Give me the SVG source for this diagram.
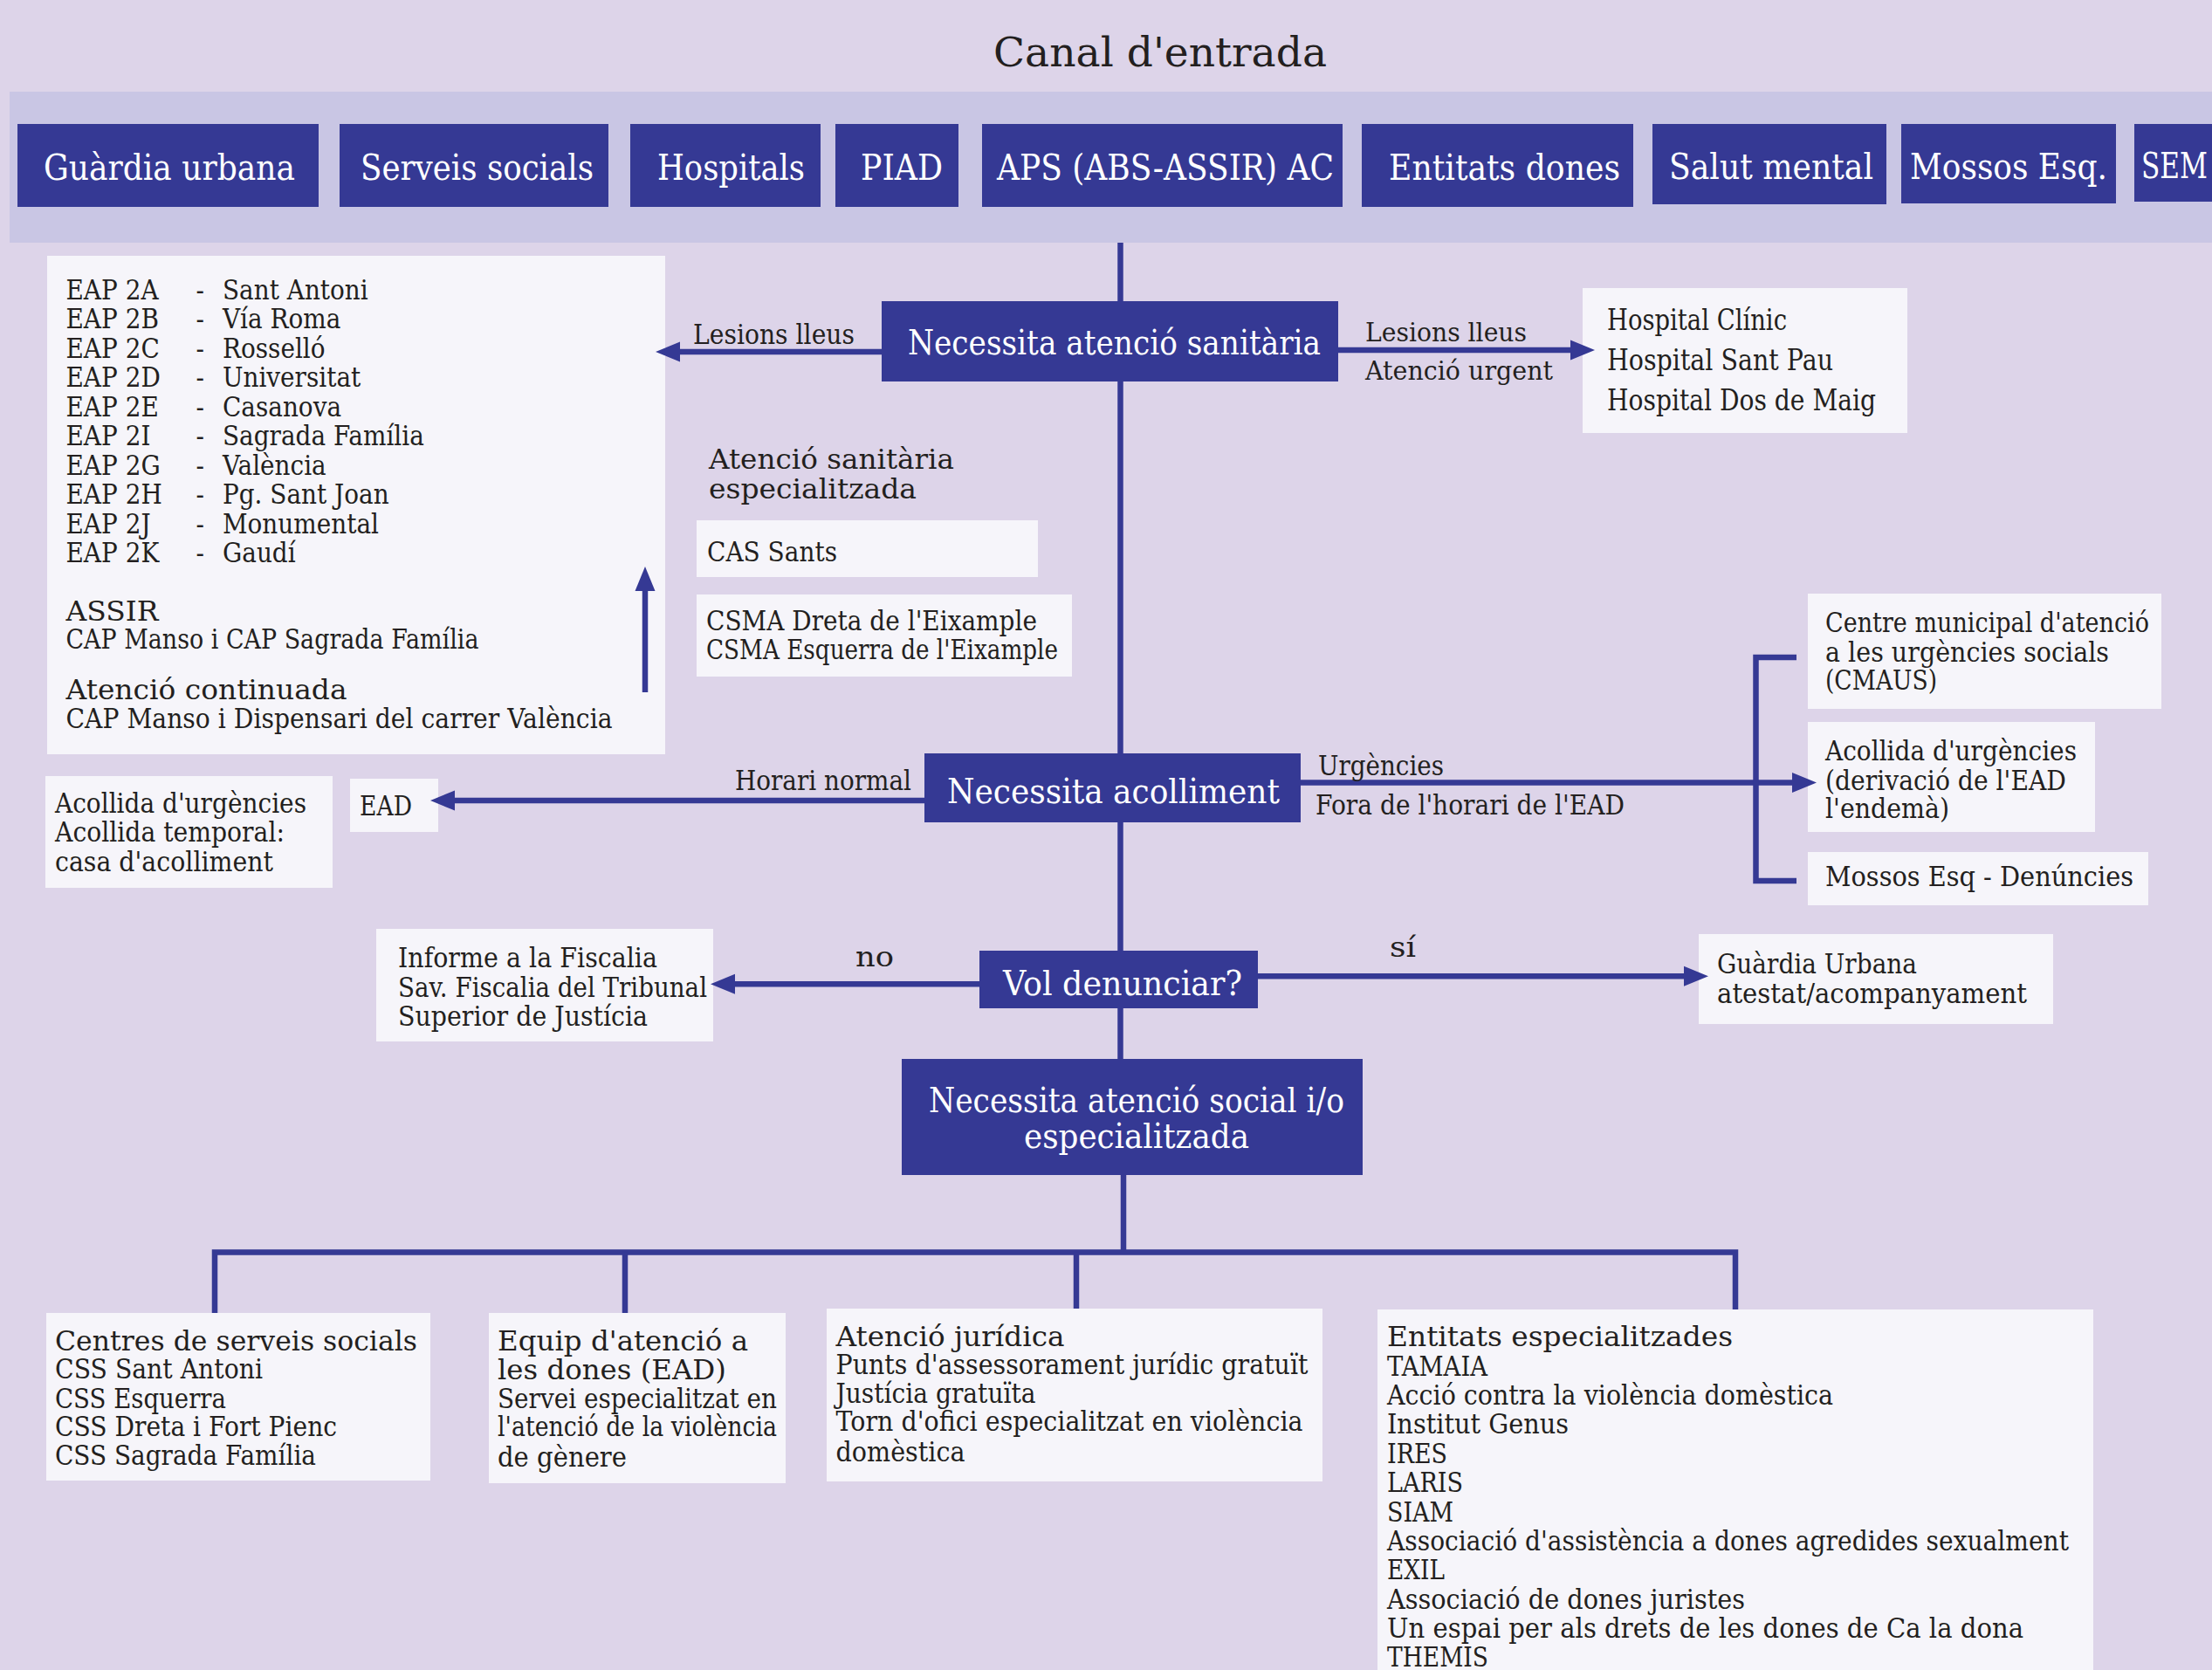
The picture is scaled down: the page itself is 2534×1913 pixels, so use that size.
<svg xmlns="http://www.w3.org/2000/svg" width="2534" height="1913" viewBox="0 0 2534 1913">
<defs>
<style>
text{font-family:'DejaVu Serif','Liberation Serif',serif;fill:#231F20}
.s31{font-size:31px}
.s30{font-size:30px}
.s33{font-size:33px}
.hd{font-size:41px;fill:#fff}
.dk{font-size:40px;fill:#fff}
.dark{fill:#353994}
.light{fill:#F6F5FA}
.ln{stroke:#353994;stroke-width:6.5;fill:none}
.ar{stroke:#353994;stroke-width:6.5;fill:none;marker-end:url(#ah)}
</style>
<marker id="ah" markerUnits="userSpaceOnUse" markerWidth="28" markerHeight="24" viewBox="0 0 28 24" refX="8" refY="12" orient="auto">
<path d="M0,0.5 L28,12 L0,23.5 z" fill="#353994"/>
</marker>
</defs>
<rect x="0" y="0" width="2534" height="1913" fill="#DDD4E9"/>
<text id="title" x="1138" y="76" font-size="47" textLength="382" lengthAdjust="spacingAndGlyphs">Canal d'entrada</text>
<rect x="11" y="105" width="2523" height="173" fill="#C9C6E4"/>

<g id="entry-channels">
<g id="n-guardia"><rect class="dark" x="20" y="142" width="345" height="95"/><text class="hd" x="50" y="206" textLength="288" lengthAdjust="spacingAndGlyphs">Guàrdia urbana</text></g>
<g id="n-serveis"><rect class="dark" x="389" y="142" width="308" height="95"/><text class="hd" x="413" y="206" textLength="267" lengthAdjust="spacingAndGlyphs">Serveis socials</text></g>
<g id="n-hospitals"><rect class="dark" x="722" y="142" width="218" height="95"/><text class="hd" x="753" y="206" textLength="169" lengthAdjust="spacingAndGlyphs">Hospitals</text></g>
<g id="n-piad"><rect class="dark" x="957" y="142" width="141" height="95"/><text class="hd" x="986" y="206" textLength="94" lengthAdjust="spacingAndGlyphs">PIAD</text></g>
<g id="n-aps"><rect class="dark" x="1125" y="142" width="413" height="95"/><text class="hd" x="1142" y="206" textLength="386" lengthAdjust="spacingAndGlyphs">APS (ABS-ASSIR) AC</text></g>
<g id="n-entitats"><rect class="dark" x="1560" y="142" width="311" height="95"/><text class="hd" x="1591" y="206" textLength="265" lengthAdjust="spacingAndGlyphs">Entitats dones</text></g>
<g id="n-salut"><rect class="dark" x="1893" y="142" width="268" height="92"/><text class="hd" x="1912" y="205" textLength="234" lengthAdjust="spacingAndGlyphs">Salut mental</text></g>
<g id="n-mossos"><rect class="dark" x="2178" y="142" width="246" height="91"/><text class="hd" x="2188" y="205" textLength="226" lengthAdjust="spacingAndGlyphs">Mossos Esq.</text></g>
<g id="n-sem"><rect class="dark" x="2445" y="142" width="89" height="89"/><text class="hd" x="2453" y="204" textLength="76" lengthAdjust="spacingAndGlyphs">SEM</text></g>
</g>

<g id="n-eap">
<rect class="light" x="54" y="293" width="708" height="571"/>
<g transform="scale(0.9,1)" class="s31">
<text x="83.9" y="343">EAP 2A</text><text x="249.4" y="343">-</text><text x="283.3" y="343">Sant Antoni</text>
<text x="83.9" y="376.5">EAP 2B</text><text x="249.4" y="376.5">-</text><text x="283.3" y="376.5">Vía Roma</text>
<text x="83.9" y="410">EAP 2C</text><text x="249.4" y="410">-</text><text x="283.3" y="410">Rosselló</text>
<text x="83.9" y="443.5">EAP 2D</text><text x="249.4" y="443.5">-</text><text x="283.3" y="443.5">Universitat</text>
<text x="83.9" y="477">EAP 2E</text><text x="249.4" y="477">-</text><text x="283.3" y="477">Casanova</text>
<text x="83.9" y="510.5">EAP 2I</text><text x="249.4" y="510.5">-</text><text x="283.3" y="510.5">Sagrada Família</text>
<text x="83.9" y="544">EAP 2G</text><text x="249.4" y="544">-</text><text x="283.3" y="544">València</text>
<text x="83.9" y="577.5">EAP 2H</text><text x="249.4" y="577.5">-</text><text x="283.3" y="577.5">Pg. Sant Joan</text>
<text x="83.9" y="611">EAP 2J</text><text x="249.4" y="611">-</text><text x="283.3" y="611">Monumental</text>
<text x="83.9" y="644.5">EAP 2K</text><text x="249.4" y="644.5">-</text><text x="283.3" y="644.5">Gaudí</text>
</g>
<text class="s31" x="75.5" y="710.5" textLength="106" lengthAdjust="spacingAndGlyphs">ASSIR</text>
<text class="s31" x="75.5" y="743" textLength="473" lengthAdjust="spacingAndGlyphs">CAP Manso i CAP Sagrada Família</text>
<text class="s31" x="75.5" y="801" textLength="322" lengthAdjust="spacingAndGlyphs">Atenció continuada</text>
<text class="s31" x="75.5" y="834" textLength="626" lengthAdjust="spacingAndGlyphs">CAP Manso i Dispensari del carrer València</text>
</g>

<g id="n-cas"><rect class="light" x="798" y="596" width="391" height="65"/><text class="s31" x="810" y="643" textLength="149" lengthAdjust="spacingAndGlyphs">CAS Sants</text></g>
<g id="n-csma"><rect class="light" x="798" y="681" width="430" height="94"/>
<text class="s31" x="809" y="721.5" textLength="379" lengthAdjust="spacingAndGlyphs">CSMA Dreta de l'Eixample</text>
<text class="s31" x="809" y="754.5" textLength="403" lengthAdjust="spacingAndGlyphs">CSMA Esquerra de l'Eixample</text></g>

<g id="n-hospitals-list"><rect class="light" x="1813" y="330" width="372" height="166"/>
<text class="s33" x="1841" y="377.5" textLength="206" lengthAdjust="spacingAndGlyphs">Hospital Clínic</text>
<text class="s33" x="1841" y="423.5" textLength="259" lengthAdjust="spacingAndGlyphs">Hospital Sant Pau</text>
<text class="s33" x="1841" y="469.5" textLength="308" lengthAdjust="spacingAndGlyphs">Hospital Dos de Maig</text></g>

<g id="n-ead"><rect class="light" x="401" y="892" width="101" height="61"/><text class="s31" x="412" y="934" textLength="60" lengthAdjust="spacingAndGlyphs">EAD</text></g>
<g id="n-acollida-left"><rect class="light" x="52" y="889" width="329" height="128"/>
<text class="s31" x="63" y="930.5" textLength="288" lengthAdjust="spacingAndGlyphs">Acollida d'urgències</text>
<text class="s31" x="63" y="964" textLength="263" lengthAdjust="spacingAndGlyphs">Acollida temporal:</text>
<text class="s31" x="63" y="998" textLength="250" lengthAdjust="spacingAndGlyphs">casa d'acolliment</text></g>

<g id="n-cmaus"><rect class="light" x="2071" y="680" width="405" height="132"/>
<text class="s31" x="2091" y="724" textLength="371" lengthAdjust="spacingAndGlyphs">Centre municipal d'atenció</text>
<text class="s31" x="2091" y="758" textLength="325" lengthAdjust="spacingAndGlyphs">a les urgències socials</text>
<text class="s31" x="2091" y="790" textLength="128" lengthAdjust="spacingAndGlyphs">(CMAUS)</text></g>
<g id="n-acollida-right"><rect class="light" x="2071" y="827" width="329" height="126"/>
<text class="s31" x="2091" y="870.5" textLength="288" lengthAdjust="spacingAndGlyphs">Acollida d'urgències</text>
<text class="s31" x="2091" y="904.5" textLength="276" lengthAdjust="spacingAndGlyphs">(derivació de l'EAD</text>
<text class="s31" x="2091" y="936.5" textLength="142" lengthAdjust="spacingAndGlyphs">l'endemà)</text></g>
<g id="n-mossos-den"><rect class="light" x="2071" y="976" width="390" height="61"/>
<text class="s31" x="2091" y="1015" textLength="353" lengthAdjust="spacingAndGlyphs">Mossos Esq - Denúncies</text></g>

<g id="n-fiscalia"><rect class="light" x="431" y="1064" width="386" height="129"/>
<text class="s31" x="456" y="1107.5" textLength="297" lengthAdjust="spacingAndGlyphs">Informe a la Fiscalia</text>
<text class="s31" x="456" y="1141.5" textLength="354" lengthAdjust="spacingAndGlyphs">Sav. Fiscalia del Tribunal</text>
<text class="s31" x="456" y="1174.5" textLength="286" lengthAdjust="spacingAndGlyphs">Superior de Justícia</text></g>
<g id="n-gu"><rect class="light" x="1946" y="1070" width="406" height="103"/>
<text class="s31" x="1967" y="1114.5" textLength="229" lengthAdjust="spacingAndGlyphs">Guàrdia Urbana</text>
<text class="s31" x="1967" y="1148.5" textLength="355" lengthAdjust="spacingAndGlyphs">atestat/acompanyament</text></g>

<g id="n-css"><rect class="light" x="53" y="1504" width="440" height="192"/>
<text class="s31" x="63" y="1546.5" textLength="415" lengthAdjust="spacingAndGlyphs">Centres de serveis socials</text>
<text class="s31" x="63" y="1579" textLength="238" lengthAdjust="spacingAndGlyphs">CSS Sant Antoni</text>
<text class="s31" x="63" y="1612.5" textLength="196" lengthAdjust="spacingAndGlyphs">CSS Esquerra</text>
<text class="s31" x="63" y="1645" textLength="323" lengthAdjust="spacingAndGlyphs">CSS Dreta i Fort Pienc</text>
<text class="s31" x="63" y="1677.5" textLength="299" lengthAdjust="spacingAndGlyphs">CSS Sagrada Família</text></g>
<g id="n-equip"><rect class="light" x="560" y="1504" width="340" height="195"/>
<text class="s31" x="570" y="1547" textLength="287" lengthAdjust="spacingAndGlyphs">Equip d'atenció a</text>
<text class="s31" x="570" y="1580" textLength="262" lengthAdjust="spacingAndGlyphs">les dones (EAD)</text>
<text class="s31" x="570" y="1612.5" textLength="320" lengthAdjust="spacingAndGlyphs">Servei especialitzat en</text>
<text class="s31" x="570" y="1645" textLength="320" lengthAdjust="spacingAndGlyphs">l'atenció de la violència</text>
<text class="s31" x="570" y="1679.5" textLength="148" lengthAdjust="spacingAndGlyphs">de gènere</text></g>
<g id="n-juridica"><rect class="light" x="947" y="1499" width="568" height="198"/>
<text class="s31" x="957.5" y="1541.5" textLength="262" lengthAdjust="spacingAndGlyphs">Atenció jurídica</text>
<text class="s31" x="957.5" y="1574" textLength="541" lengthAdjust="spacingAndGlyphs">Punts d'assessorament jurídic gratuït</text>
<text class="s31" x="957.5" y="1606.5" textLength="229" lengthAdjust="spacingAndGlyphs">Justícia gratuïta</text>
<text class="s31" x="957.5" y="1639" textLength="535" lengthAdjust="spacingAndGlyphs">Torn d'ofici especialitzat en violència</text>
<text class="s31" x="957.5" y="1673.5" textLength="148" lengthAdjust="spacingAndGlyphs">domèstica</text></g>
<g id="n-entitats-esp"><rect class="light" x="1578" y="1500" width="820" height="413"/>
<text class="s31" x="1589" y="1542.3" textLength="396" lengthAdjust="spacingAndGlyphs">Entitats especialitzades</text>
<text class="s31" x="1589" y="1575.7" textLength="115" lengthAdjust="spacingAndGlyphs">TAMAIA</text>
<text class="s31" x="1589" y="1609" textLength="511" lengthAdjust="spacingAndGlyphs">Acció contra la violència domèstica</text>
<text class="s31" x="1589" y="1642.4" textLength="208" lengthAdjust="spacingAndGlyphs">Institut Genus</text>
<text class="s31" x="1589" y="1675.8" textLength="69" lengthAdjust="spacingAndGlyphs">IRES</text>
<text class="s31" x="1589" y="1709.1" textLength="87" lengthAdjust="spacingAndGlyphs">LARIS</text>
<text class="s31" x="1589" y="1742.5" textLength="76" lengthAdjust="spacingAndGlyphs">SIAM</text>
<text class="s31" x="1589" y="1775.9" textLength="781" lengthAdjust="spacingAndGlyphs">Associació d'assistència a dones agredides sexualment</text>
<text class="s31" x="1589" y="1809.2" textLength="66" lengthAdjust="spacingAndGlyphs">EXIL</text>
<text class="s31" x="1589" y="1842.6" textLength="410" lengthAdjust="spacingAndGlyphs">Associació de dones juristes</text>
<text class="s31" x="1589" y="1876" textLength="729" lengthAdjust="spacingAndGlyphs">Un espai per als drets de les dones de Ca la dona</text>
<text class="s31" x="1589" y="1909.3" textLength="116" lengthAdjust="spacingAndGlyphs">THEMIS</text></g>

<g id="connectors">
<path class="ln" d="M1283.5,278 V1213"/>
<path class="ln" d="M1287,1346 V1434.5"/>
<path class="ln" d="M246,1504 V1434.5 H1988 V1500"/>
<path class="ln" d="M716,1434.5 V1504"/>
<path class="ln" d="M1233,1434.5 V1499"/>
<path class="ar" d="M1010,403 H771"/>
<path class="ar" d="M1533,401 H1807"/>
<path class="ar" d="M739,793 V669"/>
<path class="ar" d="M1059,917 H513"/>
<path class="ar" d="M1490,896.5 H2061"/>
<path class="ln" d="M2058,753 H2011.5 V1009 H2058"/>
<path class="ar" d="M1441,1118.3 H1937"/>
<path class="ar" d="M1122,1127.3 H834"/>
</g>

<g id="edge-labels" class="s31">
<text x="794" y="394" textLength="185" lengthAdjust="spacingAndGlyphs">Lesions lleus</text>
<text class="s30" x="1564" y="391" textLength="185" lengthAdjust="spacingAndGlyphs">Lesions lleus</text>
<text class="s30" x="1564" y="435" textLength="215" lengthAdjust="spacingAndGlyphs">Atenció urgent</text>
<text x="812" y="537" textLength="281" lengthAdjust="spacingAndGlyphs">Atenció sanitària</text>
<text x="812" y="571" textLength="238" lengthAdjust="spacingAndGlyphs">especialitzada</text>
<text x="842" y="905" textLength="202" lengthAdjust="spacingAndGlyphs">Horari normal</text>
<text x="1510" y="887.5" textLength="144" lengthAdjust="spacingAndGlyphs">Urgències</text>
<text x="1507" y="932.5" textLength="354" lengthAdjust="spacingAndGlyphs">Fora de l'horari de l'EAD</text>
<text x="980" y="1106.5" textLength="44" lengthAdjust="spacingAndGlyphs">no</text>
<text x="1592" y="1095.5" textLength="30" lengthAdjust="spacingAndGlyphs">sí</text>
</g>

<g id="n-sanitaria"><rect class="dark" x="1010" y="345" width="523" height="92"/><text class="dk" x="1040" y="406" textLength="473" lengthAdjust="spacingAndGlyphs">Necessita atenció sanitària</text></g>
<g id="n-acolliment"><rect class="dark" x="1059" y="863" width="431" height="79"/><text class="dk" x="1085" y="920" textLength="381" lengthAdjust="spacingAndGlyphs">Necessita acolliment</text></g>
<g id="n-denunciar"><rect class="dark" x="1122" y="1089" width="319" height="66"/><text class="dk" x="1149" y="1140" textLength="274" lengthAdjust="spacingAndGlyphs">Vol denunciar?</text></g>
<g id="n-social"><rect class="dark" x="1033" y="1213" width="528" height="133"/>
<text class="dk" x="1064" y="1274" textLength="476" lengthAdjust="spacingAndGlyphs">Necessita atenció social i/o</text>
<text class="dk" x="1173" y="1315" textLength="258" lengthAdjust="spacingAndGlyphs">especialitzada</text></g>
</svg>
